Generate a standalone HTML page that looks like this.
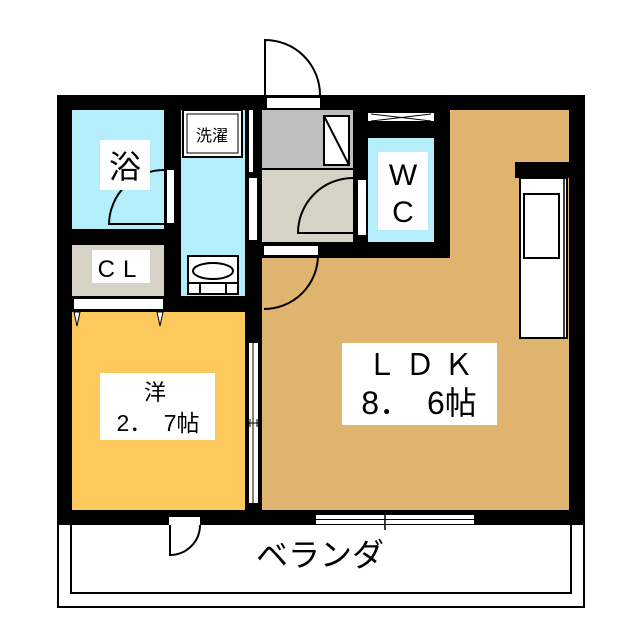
<!DOCTYPE html>
<html><head><meta charset="utf-8"><style>
html,body{margin:0;padding:0;background:#fff;}
svg{display:block}
text{font-family:"Liberation Sans","Noto Sans CJK JP",sans-serif;fill:#000}
</style></head><body>
<svg width="640" height="640" viewBox="0 0 640 640" xmlns="http://www.w3.org/2000/svg">
<rect x="58" y="520" width="526" height="87" fill="#fff" stroke="#000" stroke-width="2"/>
<rect x="71" y="520" width="500" height="73" fill="#fff" stroke="#000" stroke-width="2"/>
<rect x="57" y="95" width="528" height="430" fill="#000"/>
<rect x="72" y="110" width="92" height="119" fill="#b3eefa"/>
<rect x="72" y="245" width="92" height="51" fill="#d6d3c6"/>
<rect x="181" y="110" width="64" height="186" fill="#b3eefa"/>
<rect x="262" y="110" width="91" height="58" fill="#bfbfbf"/>
<rect x="262" y="170" width="91" height="72" fill="#d6d3c6"/>
<rect x="368" y="138" width="66" height="104" fill="#b3eefa"/>
<rect x="368" y="113" width="66" height="8" fill="#fff"/>
<path d="M371 114 L431 121 M371 121 L431 114" stroke="#000" stroke-width="1"/>
<path d="M450 110 H569 V510 H262 V258 H450 Z" fill="#dfb46e"/>
<rect x="72" y="312" width="173" height="198" fill="#fdc95c"/>
<rect x="183" y="110" width="59" height="47" fill="#fff" stroke="#000" stroke-width="2"/>
<rect x="187" y="114" width="51" height="39" fill="#fff" stroke="#000" stroke-width="1"/>
<text x="212" y="141" font-size="16" text-anchor="middle">洗濯</text>
<rect x="188" y="256" width="50" height="38" fill="#fff" stroke="#000" stroke-width="2"/>
<ellipse cx="213" cy="271" rx="20" ry="8" fill="#fff" stroke="#000" stroke-width="2"/>
<path d="M189 283 H237 M200 283 V293 M226 283 V293" stroke="#000" stroke-width="2"/>
<rect x="324" y="116" width="25" height="49" fill="#fff" stroke="#000" stroke-width="2"/>
<path d="M324 116 L349 165" stroke="#000" stroke-width="2"/>
<rect x="267" y="98" width="53" height="10" fill="#fff"/>
<path d="M265 95 V40 A55 55 0 0 1 320 95" fill="none" stroke="#000" stroke-width="2"/>
<rect x="167" y="170" width="7" height="53" fill="#fff"/>
<path d="M164 170 A55 55 0 0 0 109 224 H164" fill="none" stroke="#000" stroke-width="2"/>
<rect x="249" y="110" width="4" height="62" fill="#fff"/>
<rect x="249" y="178" width="8" height="62" fill="#fff"/>
<rect x="358" y="180" width="8" height="55" fill="#fff"/>
<path d="M353 178 A55 55 0 0 0 298 233 H353" fill="none" stroke="#000" stroke-width="2"/>
<rect x="264" y="246" width="54" height="9" fill="#fff"/>
<path d="M318 255 A54 54 0 0 1 264 309" fill="none" stroke="#000" stroke-width="2"/>
<rect x="74" y="299" width="89" height="10" fill="#fff"/>
<path d="M74 312 L80 312 L77 326 Z M157 312 L163 312 L160 326 Z" fill="#fff" stroke="#000" stroke-width="1"/>
<rect x="249" y="343" width="9" height="160" fill="#fff"/>
<path d="M253 343 V503" stroke="#000" stroke-width="1"/>
<path d="M245 423 H262 M250 419 V427 M257 419 V427" stroke="#000" stroke-width="1"/>
<rect x="316" y="515" width="158" height="9" fill="#fff"/>
<path d="M316 519.5 H474" stroke="#000" stroke-width="1"/>
<path d="M385 512 V530" stroke="#000" stroke-width="1.5"/>
<rect x="169" y="517" width="31" height="8" fill="#fff"/>
<path d="M200 525 A30 30 0 0 1 170 555 V525" fill="none" stroke="#000" stroke-width="2"/>
<rect x="515" y="162" width="70" height="16" fill="#000"/>
<rect x="520" y="178" width="47" height="160" fill="#fff" stroke="#000" stroke-width="2"/>
<path d="M564 178 V338" stroke="#000" stroke-width="1.5"/>
<rect x="524" y="194" width="35" height="64" fill="#fff" stroke="#000" stroke-width="2"/>
<rect x="100" y="140" width="50" height="50" fill="#fff"/>
<text x="125" y="178" font-size="32" text-anchor="middle">浴</text>
<rect x="92" y="250" width="58" height="33" fill="#fff"/>
<text x="121" y="277" font-size="24" text-anchor="middle" letter-spacing="8">CL</text>
<rect x="378" y="152" width="50" height="78" fill="#fff"/>
<text x="403" y="185" font-size="30" text-anchor="middle">W</text>
<text x="403" y="222" font-size="30" text-anchor="middle">C</text>
<rect x="342" y="343" width="155" height="82" fill="#fff"/>
<text x="420" y="375" font-size="30" text-anchor="middle">Ｌ Ｄ Ｋ</text>
<text x="419" y="414" font-size="32" text-anchor="middle">8．　6帖</text>
<rect x="100" y="373" width="115" height="67" fill="#fff"/>
<text x="155" y="400" font-size="22" text-anchor="middle">洋</text>
<text x="158" y="431" font-size="23" text-anchor="middle">2．　7帖</text>
<text x="320" y="566" font-size="32" text-anchor="middle">ベランダ</text>
</svg>
</body></html>
